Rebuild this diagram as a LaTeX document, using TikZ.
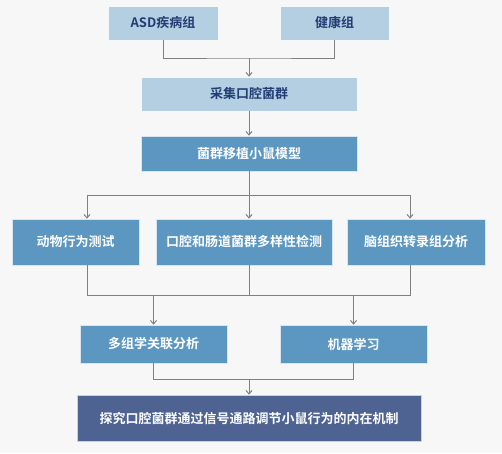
\documentclass[tikz,border=0pt]{standalone}
\usepackage{fontspec}
\setmainfont{Noto Sans CJK SC}[BoldFont={Noto Sans CJK SC Bold}]
\usetikzlibrary{arrows.meta}
\definecolor{paper}{HTML}{F7F7F7}
\definecolor{pale}{HTML}{B4CFE1}
\definecolor{mid}{HTML}{5B97C1}
\definecolor{deep}{HTML}{4E6391}
\definecolor{navy}{HTML}{223C74}
\definecolor{wire}{HTML}{808080}
\tikzset{
  sample/.style={draw=white!85!pale,line width=0.6pt,fill=pale,text=navy,font=\fontsize{13}{15}\selectfont\bfseries,minimum height=34pt,inner sep=0pt},
  assay/.style={draw=white!75!mid,line width=0.6pt,fill=mid,text=white,font=\fontsize{13}{15}\selectfont\bfseries,inner sep=0pt},
  goal/.style={draw=white!70!deep,line width=0.6pt,fill=deep,text=white,font=\fontsize{13}{15}\selectfont\bfseries,inner sep=0pt},
  link/.style={wire,line width=1pt},
  flow/.style={link,-{Straight Barb[length=3.5pt,width=6pt]}}
}
\begin{document}
\begin{tikzpicture}[x=1pt,y=-1pt]
  \fill[paper] (0,0) rectangle (502,453);
  \useasboundingbox (0,0) rectangle (502,453);

  \node[sample,minimum width=110pt] (asd) at (163,23) {ASD疾病组};
  \node[sample,minimum width=109pt] (healthy) at (334.5,23) {健康组};
  \node[sample,minimum width=216pt] (collect) at (249,94) {采集口腔菌群};
  \node[assay,minimum width=216pt,minimum height=35pt] (fmt) at (249,153.5) {菌群移植小鼠模型};

  \node[assay,minimum width=127pt,minimum height=46pt] (behavior) at (75.5,242) {动物行为测试};
  \node[assay,minimum width=176pt,minimum height=46pt] (diversity) at (244,242) {口腔和肠道菌群多样性检测};
  \node[assay,minimum width=138pt,minimum height=46pt] (transcript) at (416,242) {脑组织转录组分析};

  \node[assay,minimum width=147pt,minimum height=38pt] (omics) at (153.5,344) {多组学关联分析};
  \node[assay,minimum width=147pt,minimum height=38pt] (ml) at (353.5,344) {机器学习};

  \node[goal,minimum width=344pt,minimum height=46pt] (mechanism) at (249,418) {探究口腔菌群通过信号通路调节小鼠行为的内在机制};

  % groups -> sampling
  \coordinate (join1) at (249,58);
  \draw[link] (asd.south) |- (join1) -| (healthy.south);
  \draw[flow] (join1) -- (collect.north);
  \draw[flow] (collect.south) -- (fmt.north);

  % model -> three assays
  \coordinate (fork1) at (87,195);
  \coordinate (fork2) at (249,195);
  \coordinate (fork3) at (410,195);
  \draw[link] (fmt.south) -- (fork2);
  \draw[link] (fork1) -- (fork3);
  \draw[flow] (fork1) -- (fork1 |- behavior.north);
  \draw[flow] (fork2) -- (fork2 |- diversity.north);
  \draw[flow] (fork3) -- (fork3 |- transcript.north);

  % assays -> analysis
  \coordinate (join2) at (249,295);
  \draw[link] (fork1 |- behavior.south) -- (fork1 |- join2) -- (fork3 |- join2) -- (fork3 |- transcript.south);
  \draw[link] (fork2 |- diversity.south) -- (join2);
  \draw[flow] (omics.north |- join2) -- (omics.north);
  \draw[flow] (ml.north |- join2) -- (ml.north);

  % analysis -> mechanism
  \coordinate (join3) at (249,379);
  \draw[link] (omics.south) |- (join3) -| (ml.south);
  \draw[flow] (join3) -- (mechanism.north);
\end{tikzpicture}
\end{document}
